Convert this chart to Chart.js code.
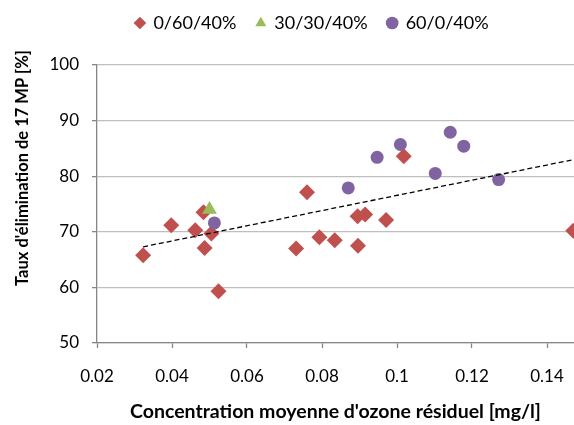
<!DOCTYPE html>
<html>
<head>
<meta charset="utf-8">
<script src="https://cdn.jsdelivr.net/npm/chart.js@4/dist/chart.umd.min.js"></script>
<style>
  html, body { margin: 0; padding: 0; background: #fff; overflow: hidden; }
  #wrap { position: relative; width: 574px; height: 425px; }
  canvas { display: block; }
</style>
</head>
<body>
<div id="wrap"><canvas id="ozoneChart"></canvas></div>
<script>
// series 0/60/40%
var redX = [0.0323, 0.0398, 0.0462, 0.0484, 0.0487, 0.0505, 0.0524, 0.0731, 0.0760,
            0.0793, 0.0834, 0.0896, 0.0895, 0.0915, 0.0971, 0.1018, 0.1470];
var redY = [65.8, 71.2, 70.3, 73.5, 67.1, 69.7, 59.3, 67.0, 77.1,
            69.0, 68.5, 67.5, 72.8, 73.1, 72.1, 83.6, 70.2];
// series 30/30/40%
var greenX = [0.0500];
var greenY = [74.0];
// series 60/0/40%
var purpleX = [0.0513, 0.0870, 0.0947, 0.1009, 0.1102, 0.1142, 0.1178, 0.1271];
var purpleY = [71.6, 77.9, 83.4, 85.7, 80.5, 87.9, 85.4, 79.4];
// trend line (linear fit, all points)
var trendX = [0.0323, 0.1472];
var trendY = [67.3, 83.0];

var seriesNames = ['0/60/40%', '30/30/40%', '60/0/40%'];
var xTitle = "Concentration moyenne d'ozone résiduel [mg/l]";
var yTitle = "Taux d'élimination de 17 MP [%]";

var toPoints = (xs, ys) => xs.map((x, i) => ({ x: x, y: ys[i] }));

var FONT = 'Lato';

var tweaks = {
    id: 'tweaks',
    afterLayout(chart) {
        var lg = chart.legend;
        if (lg) {
            lg.left += 25;
            lg.right += 25;
            lg.top -= 23;
            lg.bottom -= 23;
        }
    },
    afterDraw(chart) {
        // y title drawn by hand so it can sit a bit above the axis middle
        var ctx = chart.ctx;
        ctx.save();
        ctx.translate(23, 168);
        ctx.rotate(-Math.PI / 2);
        ctx.font = 'bold 16.5px ' + FONT;
        ctx.fillStyle = '#000';
        ctx.textAlign = 'center';
        ctx.textBaseline = 'middle';
        ctx.fillText(yTitle, 0, 0);
        ctx.restore();
    }
};

new Chart('ozoneChart', {
    type: 'scatter',
    data: {
        datasets: [{
            label: seriesNames[0],
            data: toPoints(redX, redY),
            pointStyle: 'rectRot',
            pointRadius: 8,
            backgroundColor: '#C0504D',
            borderColor: '#C0504D',
            borderWidth: 0,
            order: 3
        }, {
            label: seriesNames[1],
            data: toPoints(greenX, greenY),
            pointStyle: 'triangle',
            pointRadius: 8.5,
            backgroundColor: '#9BBB59',
            borderColor: '#9BBB59',
            borderWidth: 0,
            order: 2
        }, {
            label: seriesNames[2],
            data: toPoints(purpleX, purpleY),
            pointStyle: 'circle',
            pointRadius: 6.5,
            backgroundColor: '#8064A2',
            borderColor: '#8064A2',
            borderWidth: 0,
            order: 1
        }, {
            label: 'trend',
            type: 'line',
            data: toPoints(trendX, trendY),
            showLine: true,
            borderColor: '#000',
            borderWidth: 1.3,
            borderDash: [5, 3],
            pointRadius: 0,
            fill: false,
            order: 0
        }]
    },
    options: {
        responsive: true,
        maintainAspectRatio: false,
        animation: false,
        layout: { autoPadding: false, padding: { top: 17, left: 0, right: 0, bottom: 0 } },
        plugins: {
            legend: {
                position: 'top',
                labels: {
                    usePointStyle: true,
                    boxWidth: 9,
                    boxHeight: 9,
                    padding: 20,
                    color: '#000',
                    font: { family: FONT, size: 18 },
                    filter: item => item.text !== 'trend',
                    sort: (a, b) => a.datasetIndex - b.datasetIndex
                }
            },
            tooltip: { enabled: false }
        },
        scales: {
            x: {
                type: 'linear',
                min: 0.02,
                max: 0.1472,
                afterFit: s => { s.height = 82; s.paddingRight = 0; },
                ticks: {
                    stepSize: 0.02,
                    includeBounds: false,
                    padding: 18,
                    color: '#000',
                    font: { family: FONT, size: 17 },
                    callback: v => String(Math.round(v * 100) / 100)
                },
                grid: {
                    drawOnChartArea: false,
                    drawTicks: true,
                    tickLength: 5,
                    tickColor: '#868686',
                    tickWidth: 1.3
                },
                border: { color: '#868686', width: 1.3 },
                title: {
                    display: true,
                    text: xTitle,
                    color: '#000',
                    font: { family: FONT, size: 19.5, weight: 'bold' },
                    padding: { top: 0, bottom: 2 }
                }
            },
            y: {
                min: 50,
                max: 100,
                afterFit: s => { s.width = 97; },
                ticks: {
                    stepSize: 10,
                    padding: 13,
                    color: '#000',
                    font: { family: FONT, size: 17 }
                },
                grid: {
                    color: '#BEBEBE',
                    lineWidth: 1.3,
                    tickLength: 5,
                    tickColor: '#868686',
                    tickWidth: 1.3
                },
                border: { color: '#868686', width: 1.3 }
            }
        }
    },
    plugins: [tweaks]
});
</script>
</body>
</html>
